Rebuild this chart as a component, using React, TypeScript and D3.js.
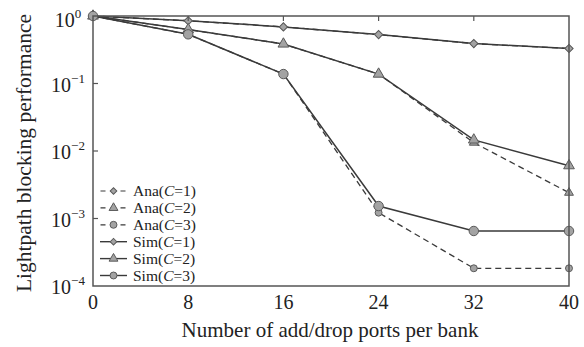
import React, { useEffect, useRef } from "react";
import * as d3 from "d3";

// ports per bank
const ports = [0, 8, 16, 24, 32, 40];

// blocking probability
const anaC1 = [1.0, 0.85, 0.69, 0.53, 0.39, 0.33];
const anaC2 = [1.0, 0.63, 0.385, 0.138, 0.0133, 0.00241];
const anaC3 = [1.0, 0.535, 0.138, 0.00122, 0.000183, 0.000183];
const simC1 = [1.0, 0.85, 0.69, 0.53, 0.39, 0.33];
const simC2 = [1.0, 0.63, 0.385, 0.138, 0.0146, 0.00606];
const simC3 = [1.0, 0.535, 0.138, 0.00153, 0.000653, 0.000653];

const yTickExps = [0, -1, -2, -3, -4];
const xTicks = [0, 8, 16, 24, 32, 40];

const series = [
  { name: "Ana", c: 1, values: anaC1, dashed: true, marker: "diamond" },
  { name: "Ana", c: 2, values: anaC2, dashed: true, marker: "triangle" },
  { name: "Ana", c: 3, values: anaC3, dashed: true, marker: "circle" },
  { name: "Sim", c: 1, values: simC1, dashed: false, marker: "diamond" },
  { name: "Sim", c: 2, values: simC2, dashed: false, marker: "triangle" },
  { name: "Sim", c: 3, values: simC3, dashed: false, marker: "circle" },
];

const App = () => {
  const ref = useRef<SVGSVGElement | null>(null);
  const width = 584;
  const height = 347;
  const margin = { left: 93, right: 15, top: 16, bottom: 61 };

  useEffect(() => {
    const svg = d3.select(ref.current);
    svg.selectAll("*").remove();

    const x = d3
      .scaleLinear()
      .domain([0, 40])
      .range([margin.left, width - margin.right]);
    const y = d3
      .scaleLog()
      .domain([1e-4, 1])
      .range([height - margin.bottom, margin.top]);

    const font = "'Liberation Serif', 'DejaVu Serif', serif";
    const lineColor = "#3a3a3a";

    // diamonds are squares turned 45deg, so they come out square like the original
    const symbolFor = (m: string, small: boolean) => {
      const type =
        m === "diamond"
          ? d3.symbolSquare
          : m === "triangle"
          ? d3.symbolTriangle
          : d3.symbolCircle;
      const size = small
        ? m === "circle" ? 38 : m === "diamond" ? 22 : 34
        : m === "circle" ? 70 : m === "diamond" ? 34 : 50;
      return d3.symbol().type(type).size(size)();
    };
    const rot = (m: string) => (m === "diamond" ? " rotate(45)" : "");

    const line = d3
      .line<number>()
      .x((_, i) => x(ports[i]))
      .y((d) => y(d));

    // lines: analytical first, then simulated on top
    series.forEach((s) => {
      svg
        .append("path")
        .attr("d", line(s.values))
        .attr("fill", "none")
        .attr("stroke", lineColor)
        .attr("stroke-width", s.dashed ? 1.3 : 1.5)
        .attr("stroke-dasharray", s.dashed ? "6,4" : null);
    });

    series.forEach((s) => {
      svg
        .append("g")
        .selectAll("path")
        .data(s.values)
        .enter()
        .append("path")
        .attr("d", symbolFor(s.marker, s.dashed))
        .attr("transform", (d, i) => `translate(${x(ports[i])},${y(d)})${rot(s.marker)}`)
        .attr("fill", "#a3a3a3")
        .attr("stroke", "#5a5a5a")
        .attr("stroke-width", 1);
    });

    // frame
    svg
      .append("rect")
      .attr("x", margin.left)
      .attr("y", margin.top)
      .attr("width", width - margin.left - margin.right)
      .attr("height", height - margin.top - margin.bottom)
      .attr("fill", "none")
      .attr("stroke", "#555")
      .attr("stroke-width", 1.5);

    // top inner ticks
    xTicks.slice(1, -1).forEach((t) => {
      svg
        .append("line")
        .attr("x1", x(t))
        .attr("x2", x(t))
        .attr("y1", margin.top)
        .attr("y2", margin.top + 5)
        .attr("stroke", "#555")
        .attr("stroke-width", 1.2);
    });

    // left inner ticks + labels
    yTickExps.forEach((e) => {
      const yy = y(Math.pow(10, e));
      if (e !== 0 && e !== -4) {
        svg
          .append("line")
          .attr("x1", margin.left)
          .attr("x2", margin.left + 5)
          .attr("y1", yy)
          .attr("y2", yy)
          .attr("stroke", "#555")
          .attr("stroke-width", 1.2);
      }
      const txt = svg
        .append("text")
        .attr("x", 68)
        .attr("y", yy + (e === 0 ? 11 : 8))
        .attr("text-anchor", "middle")
        .attr("font-family", font)
        .attr("font-size", 20)
        .attr("fill", "#222");
      txt.append("tspan").text("10");
      txt
        .append("tspan")
        .attr("dy", -9)
        .attr("font-size", 13)
        .text(e === 0 ? "0" : "\u2212" + Math.abs(e));
    });

    // x labels
    xTicks.forEach((t) => {
      svg
        .append("text")
        .attr("x", x(t))
        .attr("y", height - margin.bottom + 23)
        .attr("text-anchor", "middle")
        .attr("font-family", font)
        .attr("font-size", 20)
        .attr("fill", "#222")
        .text(t);
    });

    svg
      .append("text")
      .attr("x", 330)
      .attr("y", 337)
      .attr("text-anchor", "middle")
      .attr("font-family", font)
      .attr("font-size", 21)
      .attr("fill", "#222")
      .text("Number of add/drop ports per bank");

    svg
      .append("text")
      .attr("transform", `translate(31,153) rotate(-90)`)
      .attr("text-anchor", "middle")
      .attr("font-family", font)
      .attr("font-size", 21.5)
      .attr("fill", "#222")
      .text("Lightpath blocking performance");

    // legend
    const lg = svg.append("g").attr("transform", `translate(100,191)`);
    series.forEach((s, i) => {
      const row = lg.append("g").attr("transform", `translate(0,${i * 16.9})`);
      row
        .append("line")
        .attr("x1", 0)
        .attr("x2", 27)
        .attr("y1", 0)
        .attr("y2", 0)
        .attr("stroke", lineColor)
        .attr("stroke-width", s.dashed ? 1.2 : 1.4)
        .attr("stroke-dasharray", s.dashed ? "5,5" : null)
        .attr("stroke-dashoffset", s.dashed ? -0.5 : null);
      row
        .append("path")
        .attr("d", symbolFor(s.marker, true))
        .attr("transform", `translate(13.5,0)${rot(s.marker)}`)
        .attr("fill", "#a3a3a3")
        .attr("stroke", "#5a5a5a");
      const t = row
        .append("text")
        .attr("x", 33)
        .attr("y", 5)
        .attr("font-family", font)
        .attr("font-size", 15.5)
        .attr("fill", "#222");
      t.append("tspan").text(`${s.name}(`);
      t.append("tspan").attr("font-style", "italic").text("C");
      t.append("tspan").text(`=${s.c})`);
    });
  }, []);

  return <svg ref={ref} width={width} height={height} style={{ position: "absolute", left: 0, top: 0 }} />;
};

export default App;
